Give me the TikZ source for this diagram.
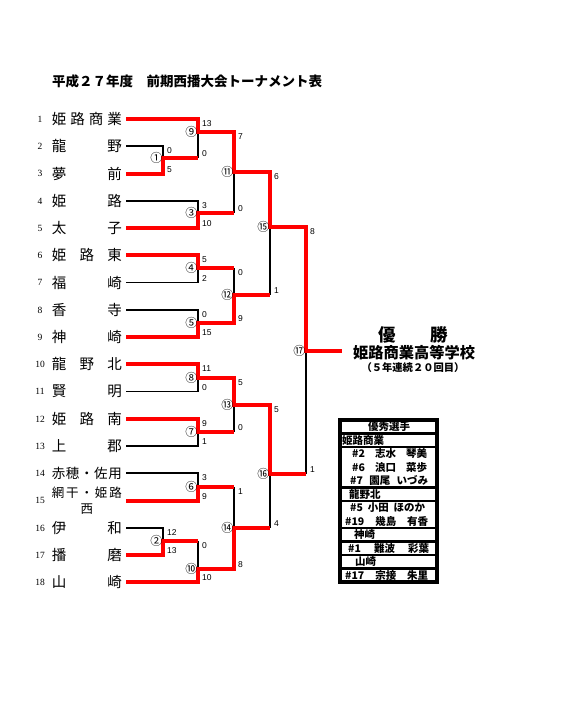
\documentclass[tikz,border=0pt]{standalone}
\usepackage{fontspec}
\setmainfont{Liberation Serif}
\newfontfamily\jp{Noto Sans CJK JP}
\newfontfamily\arial{Liberation Sans}
\usetikzlibrary{positioning}
\definecolor{winred}{RGB}{255,0,0}
\tikzstyle{winline} = [draw=winred, line width=4pt]
\tikzstyle{loseline} = [draw=black, line width=1.8pt]
\tikzstyle{teamname} = [anchor=east, inner xsep=4pt, inner ysep=0pt,
    font=\jp\fontsize{14.5}{17}\selectfont]
\tikzstyle{rowno} = [inner sep=0pt, font=\fontsize{9.5}{11}\selectfont]
\tikzstyle{score} = [inner sep=1pt, font=\arial\fontsize{8.5}{10}\selectfont]
\tikzstyle{topscore} = [score, anchor=north west, xshift=3pt]
\tikzstyle{botscore} = [score, anchor=south west, xshift=3pt]
\tikzstyle{maru} = [inner sep=0pt, font=\jp\fontsize{12}{12}\selectfont]
\tikzstyle{prize} = [inner sep=0pt, font=\jp\bfseries\fontsize{10.5}{12}\selectfont]
\begin{document}
\begin{tikzpicture}[x=1pt, y=-1pt]
\useasboundingbox (0,0) rectangle (586,728);

\node[anchor=west, inner sep=0pt, font=\jp\bfseries\fontsize{13.5}{15}\selectfont] (title)
    at (52,81) {平成２７年度　前期西播大会トーナメント表};

% teams
\node[rowno] (n1) at (40,119) {1};
\node[teamname] (t1) at (126,119) {\makebox[70pt]{姫\hfill 路\hfill 商\hfill 業}};
\node[rowno] (n2) at (40,146) {2};
\node[teamname] (t2) at (126,146) {\makebox[70pt]{龍\hfill 野}};
\node[rowno] (n3) at (40,173.5) {3};
\node[teamname] (t3) at (126,173.5) {\makebox[70pt]{夢\hfill 前}};
\node[rowno] (n4) at (40,201) {4};
\node[teamname] (t4) at (126,201) {\makebox[70pt]{姫\hfill 路}};
\node[rowno] (n5) at (40,228) {5};
\node[teamname] (t5) at (126,228) {\makebox[70pt]{太\hfill 子}};
\node[rowno] (n6) at (40,255) {6};
\node[teamname] (t6) at (126,255) {\makebox[70pt]{姫\hfill 路\hfill 東}};
\node[rowno] (n7) at (40,282.5) {7};
\node[teamname] (t7) at (126,282.5) {\makebox[70pt]{福\hfill 崎}};
\node[rowno] (n8) at (40,310) {8};
\node[teamname] (t8) at (126,310) {\makebox[70pt]{香\hfill 寺}};
\node[rowno] (n9) at (40,337) {9};
\node[teamname] (t9) at (126,337) {\makebox[70pt]{神\hfill 崎}};
\node[rowno] (n10) at (40,364) {10};
\node[teamname] (t10) at (126,364) {\makebox[70pt]{龍\hfill 野\hfill 北}};
\node[rowno] (n11) at (40,391.5) {11};
\node[teamname] (t11) at (126,391.5) {\makebox[70pt]{賢\hfill 明}};
\node[rowno] (n12) at (40,419) {12};
\node[teamname] (t12) at (126,419) {\makebox[70pt]{姫\hfill 路\hfill 南}};
\node[rowno] (n13) at (40,446) {13};
\node[teamname] (t13) at (126,446) {\makebox[70pt]{上\hfill 郡}};
\node[rowno] (n14) at (40,473) {14};
\node[teamname, font=\jp\fontsize{13.5}{16}\selectfont] (t14) at (126,473)
    {\makebox[70pt]{赤\hfill 穂\hfill ・\hfill 佐\hfill 用}};
\node[rowno] (n15) at (40,500.5) {15};
\node[teamname, align=center, font=\jp\fontsize{12.5}{16}\selectfont] (t15) at (126,500.5)
    {\makebox[70pt]{網\hfill 干\hfill ・\hfill 姫\hfill 路}\\西};
\node[rowno] (n16) at (40,528) {16};
\node[teamname] (t16) at (126,528) {\makebox[70pt]{伊\hfill 和}};
\node[rowno] (n17) at (40,555) {17};
\node[teamname] (t17) at (126,555) {\makebox[70pt]{播\hfill 磨}};
\node[rowno] (n18) at (40,582) {18};
\node[teamname] (t18) at (126,582) {\makebox[70pt]{山\hfill 崎}};

% match points
\coordinate (m1) at (163,158);
\coordinate (m2) at (163,541);
\coordinate (m9) at (198,132);
\coordinate (m3) at (198,213);
\coordinate (m4) at (198,268);
\coordinate (m5) at (198,323);
\coordinate (m8) at (198,378);
\coordinate (m7) at (198,432);
\coordinate (m6) at (198,487);
\coordinate (m10) at (198,569);
\coordinate (m11) at (234,172);
\coordinate (m12) at (234,295);
\coordinate (m13) at (234,405);
\coordinate (m14) at (234,528);
\coordinate (m15) at (270,227);
\coordinate (m16) at (270,474);
\coordinate (m17) at (306,351);
\coordinate (fin) at (342,351);

% losers
\draw[loseline] (t2.east) -| (m1);
\draw[loseline] (t4.east) -| (m3);
\draw[loseline] (t7.east) -| (m4);
\draw[loseline] (t8.east) -| (m5);
\draw[loseline] (t11.east) -| (m8);
\draw[loseline] (t13.east) -| (m7);
\draw[loseline] (t14.east) -| (m6);
\draw[loseline] (t16.east) -| (m2);
\draw[loseline] (m1 -| m9) -- (m9);
\draw[loseline] (m3 -| m11) -- (m11);
\draw[loseline] (m4 -| m12) -- (m12);
\draw[loseline] (m12 -| m15) -- (m15);
\draw[loseline] (m7 -| m13) -- (m13);
\draw[loseline] (m6 -| m14) -- (m14);
\draw[loseline] (m2 -| m10) -- (m10);
\draw[loseline] (m14 -| m16) -- (m16);
\draw[loseline] (m16 -| m17) -- (m17);

% winners
\draw[winline] (t1.east) -| (m9) -| (m11) -| (m15) -| (m17) -- (fin);
\draw[winline] (t3.east) -| (m1) -- (m1 -| m9);
\draw[winline] (t5.east) -| (m3) -- (m3 -| m11);
\draw[winline] (t6.east) -| (m4) -- (m4 -| m12);
\draw[winline] (t9.east) -| (m5) -| (m12) -- (m12 -| m15);
\draw[winline] (t10.east) -| (m8) -| (m13) -| (m16) -- (m16 -| m17);
\draw[winline] (t12.east) -| (m7) -- (m7 -| m13);
\draw[winline] (t15.east) -| (m6) -- (m6 -| m14);
\draw[winline] (t17.east) -| (m2) -- (m2 -| m10);
\draw[winline] (t18.east) -| (m10) -| (m14) -- (m14 -| m16);

% match numbers
\node[maru, left=0.5pt of m1] (c1) {①};
\node[maru, left=0.5pt of m2] (c2) {②};
\node[maru, left=0.5pt of m3] (c3) {③};
\node[maru, left=0.5pt of m4] (c4) {④};
\node[maru, left=0.5pt of m5] (c5) {⑤};
\node[maru, left=0.5pt of m6] (c6) {⑥};
\node[maru, left=0.5pt of m7] (c7) {⑦};
\node[maru, left=0.5pt of m8] (c8) {⑧};
\node[maru, left=0.5pt of m9] (c9) {⑨};
\node[maru, left=0.5pt of m10] (c10) {⑩};
\node[maru, left=0.5pt of m11] (c11) {⑪};
\node[maru, left=0.5pt of m12] (c12) {⑫};
\node[maru, left=0.5pt of m13] (c13) {⑬};
\node[maru, left=0.5pt of m14] (c14) {⑭};
\node[maru, left=0.5pt of m15] (c15) {⑮};
\node[maru, left=0.5pt of m16] (c16) {⑯};
\node[maru, left=0.5pt of m17] (c17) {⑰};

% scores
\node[topscore] (s1a) at (t2.east -| m1) {0};
\node[botscore] (s1b) at (t3.east -| m1) {5};
\node[topscore] (s2a) at (t16.east -| m2) {12};
\node[botscore] (s2b) at (t17.east -| m2) {13};
\node[topscore] (s3a) at (t4.east -| m3) {3};
\node[botscore] (s3b) at (t5.east -| m3) {10};
\node[topscore] (s4a) at (t6.east -| m4) {5};
\node[botscore] (s4b) at (t7.east -| m4) {2};
\node[topscore] (s5a) at (t8.east -| m5) {0};
\node[botscore] (s5b) at (t9.east -| m5) {15};
\node[topscore] (s6a) at (t14.east -| m6) {3};
\node[botscore] (s6b) at (t15.east -| m6) {9};
\node[topscore] (s7a) at (t12.east -| m7) {9};
\node[botscore] (s7b) at (t13.east -| m7) {1};
\node[topscore] (s8a) at (t10.east -| m8) {11};
\node[botscore] (s8b) at (t11.east -| m8) {0};
\node[topscore] (s9a) at (t1.east -| m9) {13};
\node[botscore] (s9b) at (m1 -| m9) {0};
\node[topscore] (s10a) at (m2 -| m10) {0};
\node[botscore] (s10b) at (t18.east -| m10) {10};
\node[topscore] (s11a) at (m9 -| m11) {7};
\node[botscore] (s11b) at (m3 -| m11) {0};
\node[topscore] (s12a) at (m4 -| m12) {0};
\node[botscore] (s12b) at (m5 -| m12) {9};
\node[topscore] (s13a) at (m8 -| m13) {5};
\node[botscore] (s13b) at (m7 -| m13) {0};
\node[topscore] (s14a) at (m6 -| m14) {1};
\node[botscore] (s14b) at (m10 -| m14) {8};
\node[topscore] (s15a) at (m11 -| m15) {6};
\node[botscore] (s15b) at (m12 -| m15) {1};
\node[topscore] (s16a) at (m13 -| m16) {5};
\node[botscore] (s16b) at (m14 -| m16) {4};
\node[topscore] (s17a) at (m15 -| m17) {8};
\node[botscore] (s17b) at (m16 -| m17) {1};

% champion
\node[inner sep=0pt, font=\jp\bfseries\fontsize{17.5}{20}\selectfont] (yusho) at (413,335) {優　　勝};
\node[inner sep=0pt, font=\jp\bfseries\fontsize{15.25}{18}\selectfont] (champ) at (414,353) {姫路商業高等学校};
\node[inner sep=0pt, font=\jp\bfseries\fontsize{10.3}{12}\selectfont] (renzoku) at (413,368) {（５年連続２０回目）};

% best players
\draw[line width=3.2pt] (340,420) rectangle (437,582);
\foreach \k in {1,2,5,6,8,9,10,11}
  \draw[line width=2.4pt] (340,{420+13.5*\k}) -- (437,{420+13.5*\k});
\node[prize] (p0) at (389,426.75) {優秀選手};
\node[prize, anchor=west] (p1) at (342,440.25) {姫路商業};
\node[prize, anchor=west] (p2) at (352,453.75) {\makebox[75pt]{\#2\hfill 志水\hfill 琴美}};
\node[prize, anchor=west] (p3) at (352,467.25) {\makebox[75pt]{\#6\hfill 浪口\hfill 菜歩}};
\node[prize, anchor=west] (p4) at (350,480.75) {\makebox[78pt]{\#7\hfill 園尾\hfill いづみ}};
\node[prize, anchor=west] (p5) at (349,494.25) {龍野北};
\node[prize, anchor=west] (p6) at (350,507.75) {\makebox[75pt]{\#5\hfill 小田\hfill ほのか}};
\node[prize, anchor=west] (p7) at (345,521.25) {\makebox[83pt]{\#19\hfill 幾島\hfill 有香}};
\node[prize, anchor=west] (p8) at (354,534.75) {神崎};
\node[prize, anchor=west] (p9) at (348,548.25) {\makebox[81pt]{\#1\hfill 難波\hfill 彩葉}};
\node[prize, anchor=west] (p10) at (355,561.75) {山崎};
\node[prize, anchor=west] (p11) at (345,575.25) {\makebox[83pt]{\#17\hfill 宗接\hfill 朱里}};

\end{tikzpicture}
\end{document}
